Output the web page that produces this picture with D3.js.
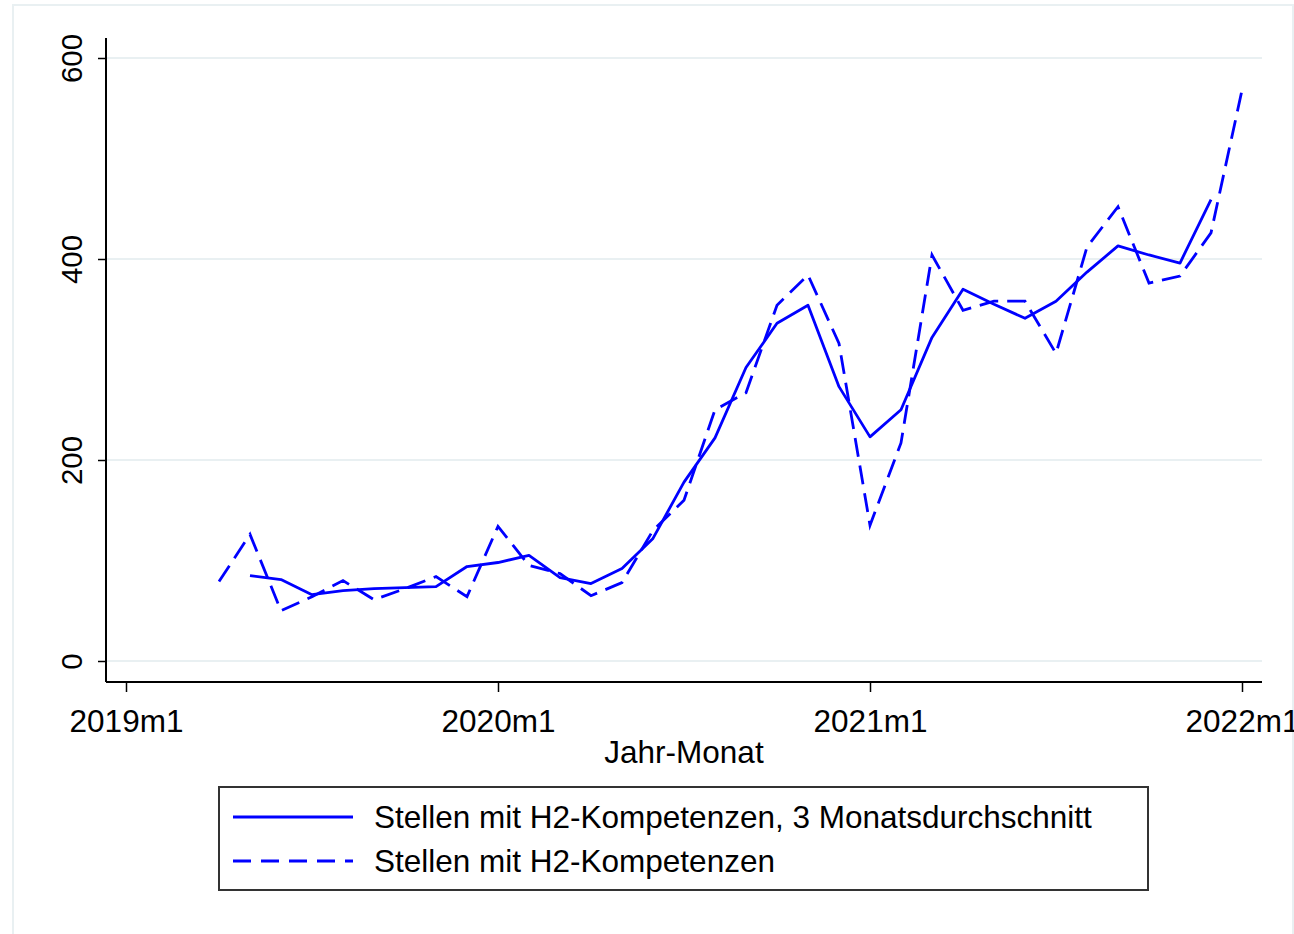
<!DOCTYPE html>
<html>
<head>
<meta charset="utf-8">
<script src="https://cdn.jsdelivr.net/npm/d3@7"></script>
<style>
  body { margin: 0; background: #fff; }
  text { font-family: "Liberation Sans", Arial, sans-serif; fill: #000; }
</style>
</head>
<body>
<div class="svg-container"></div>
<script>
var width = 1294;
var height = 934;

// month index 0 = 2019m1
var tickMonths = [0, 12, 24, 36];
var tickLabels = ["2019m1", "2020m1", "2021m1", "2022m1"];
var yTicks = [0, 200, 400, 600];

// Stellen mit H2-Kompetenzen (monthly), months 3..36
var monthsRaw = d3.range(3, 37);
var valuesRaw = [79, 126, 50, 64, 80, 61, 72, 84, 64, 134, 95, 87, 65, 78, 130, 160, 250,
                 267, 354, 384, 316, 135, 217, 404, 349, 358, 358, 306, 412, 452, 376,
                 383, 426, 568];

// 3 Monatsdurchschnitt, months 4..35
var monthsAvg = d3.range(4, 36);
var valuesAvg = [85, 81, 66, 70, 72, 73, 74, 94, 98, 105, 83, 77, 92, 122, 178, 222, 292,
                 336, 354, 273, 223, 250, 322, 370, 355, 341, 358, 387, 413, 404, 396, 459];

var legendLabels = ["Stellen mit H2-Kompetenzen, 3 Monatsdurchschnitt",
                    "Stellen mit H2-Kompetenzen"];

var plot = { left: 106, right: 1262, top: 38, bottom: 682 };
var blue = "#0000ff";
var gridColor = "#e9f0f2";
var hFont = "31.5px"; // horizontal texts look a bit wider than the rotated ones

var svg = d3.select(".svg-container")
  .append("svg")
  .attr("width", width)
  .attr("height", height);

// outer graph region frame
svg.append("rect")
  .attr("x", 13).attr("y", 5)
  .attr("width", 1280).attr("height", 940)
  .attr("fill", "none")
  .attr("stroke", gridColor)
  .attr("stroke-width", 2);

var scaleX = d3.scaleLinear().domain([0, 36]).range([126, 1242]);
var scaleY = d3.scaleLinear().domain([0, 600]).range([661, 58]);

// grid lines
svg.append("g")
  .selectAll("line")
  .data(yTicks)
  .enter().append("line")
  .attr("x1", plot.left).attr("x2", plot.right)
  .attr("y1", function(d) { return scaleY(d); })
  .attr("y2", function(d) { return scaleY(d); })
  .attr("stroke", gridColor)
  .attr("stroke-width", 2);

// y axis
var yAxis = svg.append("g")
  .attr("transform", "translate(" + plot.left + ",0)")
  .call(d3.axisLeft(scaleY).tickValues(yTicks).tickSize(8).tickPadding(0));
yAxis.select(".domain").remove();
yAxis.selectAll(".tick line").attr("stroke", "#000").attr("stroke-width", 1.5);
yAxis.selectAll(".tick text")
  .attr("transform", "rotate(-90)")
  .attr("x", 0)
  .attr("y", -24)
  .attr("dy", 0)
  .attr("text-anchor", "middle")
  .style("font-size", "29.5px");

// x axis
var xAxis = svg.append("g")
  .attr("transform", "translate(0," + plot.bottom + ")")
  .call(d3.axisBottom(scaleX).tickValues(tickMonths).tickSize(10)
        .tickFormat(function(d, i) { return tickLabels[i]; }));
xAxis.select(".domain").remove();
xAxis.selectAll(".tick line").attr("stroke", "#000").attr("stroke-width", 1.5);
xAxis.selectAll(".tick text")
  .attr("y", 50)
  .attr("dy", 0)
  .style("font-size", hFont);

// axis lines
svg.append("line")
  .attr("x1", plot.left).attr("x2", plot.left)
  .attr("y1", plot.top).attr("y2", plot.bottom)
  .attr("stroke", "#000").attr("stroke-width", 2);
svg.append("line")
  .attr("x1", plot.left).attr("x2", plot.right)
  .attr("y1", plot.bottom).attr("y2", plot.bottom)
  .attr("stroke", "#000").attr("stroke-width", 2);

// x axis title
svg.append("text")
  .attr("x", 684)
  .attr("y", 763)
  .attr("text-anchor", "middle")
  .style("font-size", hFont)
  .text("Jahr-Monat");

// lines
var line = d3.line()
  .x(function(d) { return scaleX(d[0]); })
  .y(function(d) { return scaleY(d[1]); });

svg.append("path")
  .datum(d3.zip(monthsRaw, valuesRaw))
  .attr("fill", "none")
  .attr("stroke", blue)
  .attr("stroke-width", 2.8)
  .attr("stroke-dasharray", "19,9")
  .attr("d", line);

svg.append("path")
  .datum(d3.zip(monthsAvg, valuesAvg))
  .attr("fill", "none")
  .attr("stroke", blue)
  .attr("stroke-width", 2.8)
  .attr("stroke-linejoin", "round")
  .attr("d", line);

// legend
var legend = svg.append("g");
legend.append("rect")
  .attr("x", 219).attr("y", 787)
  .attr("width", 929).attr("height", 103)
  .attr("fill", "#fff")
  .attr("stroke", "#333")
  .attr("stroke-width", 2);

var dashes = [null, "18,10"];
legendLabels.forEach(function(label, i) {
  var ly = 817 + i * 44;
  legend.append("line")
    .attr("x1", 233).attr("x2", 353)
    .attr("y1", ly).attr("y2", ly)
    .attr("stroke", blue)
    .attr("stroke-width", 2.8)
    .attr("stroke-dasharray", dashes[i]);
  legend.append("text")
    .attr("x", 374)
    .attr("y", ly + 11)
    .style("font-size", hFont)
    .text(label);
});
</script>
</body>
</html>
